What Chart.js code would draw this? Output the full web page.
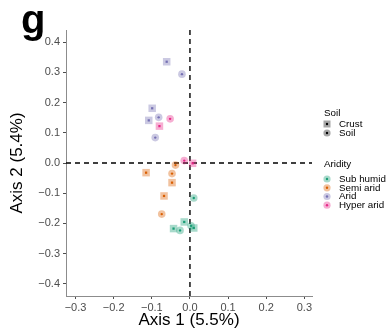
<!DOCTYPE html>
<html>
<head>
<meta charset="utf-8">
<script src="https://cdn.jsdelivr.net/npm/chart.js@4.4.0/dist/chart.umd.min.js"></script>
<style>
  html, body { margin: 0; padding: 0; background: #fff; }
  #wrap { position: relative; width: 389px; height: 333px; }
</style>
</head>
<body>
<div id="wrap"><canvas id="ordenacion" width="389" height="333"></canvas></div>
<script>
// categorias
const aridez = ['Sub humid', 'Semi arid', 'Arid', 'Hyper arid'];
const suelo = ['Crust', 'Soil'];
const colores = ['#1b9e77', '#d95f02', '#7570b3', '#e7298a'];

// puntos [eje1, eje2] por aridez y tipo de suelo
const subHumidCrust = [[-0.015, -0.195], [-0.043, -0.217], [0.010, -0.215]];
const subHumidSoil = [[0.010, -0.116], [-0.026, -0.223], [0.003, -0.208]];
const semiAridCrust = [[-0.115, -0.032], [-0.047, -0.065], [-0.068, -0.109]];
const semiAridSoil = [[-0.038, -0.007], [-0.047, -0.035], [-0.074, -0.169]];
const aridCrust = [[-0.061, 0.335], [-0.099, 0.181], [-0.108, 0.141]];
const aridSoil = [[-0.021, 0.294], [-0.082, 0.151], [-0.091, 0.084]];
const hyperAridCrust = [[-0.080, 0.122], [0.007, -0.001]];
const hyperAridSoil = [[-0.052, 0.146], [-0.015, 0.008]];

const xTicks = [-0.3, -0.2, -0.1, 0.0, 0.1, 0.2, 0.3];
const yTicks = [-0.4, -0.3, -0.2, -0.1, 0.0, 0.1, 0.2, 0.3, 0.4];

const grupos = [
    [subHumidCrust, subHumidSoil],
    [semiAridCrust, semiAridSoil],
    [aridCrust, aridSoil],
    [hyperAridCrust, hyperAridSoil]
];

function hexAlpha(hex, a) {
    const r = parseInt(hex.slice(1, 3), 16);
    const g = parseInt(hex.slice(3, 5), 16);
    const b = parseInt(hex.slice(5, 7), 16);
    return 'rgba(' + r + ',' + g + ',' + b + ',' + a + ')';
}

function formatoTick(v) {
    const s = Math.abs(v).toFixed(1);
    return (v < -1e-9 ? '\u2212' : '') + s;
}

let datasets = [];
grupos.forEach(function (grupo, i) {
    grupo.forEach(function (pares, j) {
        const puntos = pares.map(p => ({ x: p[0], y: p[1] }));
        const estilo = j === 0 ? 'rect' : 'circle';
        // marca grande semitransparente
        datasets.push({
            label: aridez[i] + ' ' + suelo[j],
            data: puntos,
            pointStyle: estilo,
            pointRadius: j === 0 ? 5.3 : 3.8,
            backgroundColor: hexAlpha(colores[i], 0.38),
            borderWidth: 0,
            borderColor: 'transparent'
        });
        // punto central
        datasets.push({
            label: aridez[i] + ' ' + suelo[j] + ' centro',
            data: puntos,
            pointStyle: estilo,
            pointRadius: j === 0 ? 1.6 : 1.2,
            backgroundColor: colores[i],
            borderWidth: 0,
            borderColor: 'transparent'
        });
    });
});

const lineasCero = {
    id: 'lineasCero',
    beforeDatasetsDraw(chart) {
        const { ctx, chartArea, scales } = chart;
        const x0 = scales.x.getPixelForValue(0);
        const y0 = scales.y.getPixelForValue(0);
        ctx.save();
        ctx.strokeStyle = '#000';
        ctx.lineWidth = 1.4;
        ctx.setLineDash([5, 4]);
        ctx.beginPath();
        ctx.moveTo(x0, chartArea.top);
        ctx.lineTo(x0, chartArea.bottom);
        ctx.moveTo(chartArea.left, y0);
        ctx.lineTo(chartArea.right, y0);
        ctx.stroke();
        ctx.restore();
    }
};

const leyendaYLetra = {
    id: 'leyendaYLetra',
    afterDraw(chart) {
        const ctx = chart.ctx;
        ctx.save();
        // letra del panel
        ctx.fillStyle = '#000';
        ctx.font = 'bold 40px "Liberation Sans", Arial, sans-serif';
        ctx.textBaseline = 'alphabetic';
        ctx.textAlign = 'left';
        ctx.fillText('g', 21, 33);

        const xm = 327, xt = 339;
        ctx.font = '9.8px "Liberation Sans", Arial, sans-serif';
        ctx.textBaseline = 'middle';
        ctx.fillStyle = '#000';
        ctx.fillText('Soil', 324, 113);
        const ySuelo = [124, 133];
        suelo.forEach(function (nombre, j) {
            const y = ySuelo[j];
            ctx.fillStyle = 'rgba(0,0,0,0.35)';
            ctx.beginPath();
            if (j === 0) ctx.rect(xm - 3.5, y - 3.5, 7, 7);
            else ctx.arc(xm, y, 3.6, 0, Math.PI * 2);
            ctx.fill();
            ctx.fillStyle = '#000';
            ctx.beginPath();
            ctx.arc(xm, y, 1.2, 0, Math.PI * 2);
            ctx.fill();
            ctx.fillText(nombre, xt, y);
        });

        ctx.fillText('Aridity', 324, 164);
        const yArid = [179, 187.8, 196.5, 205.2];
        aridez.forEach(function (nombre, i) {
            const y = yArid[i];
            ctx.fillStyle = hexAlpha(colores[i], 0.38);
            ctx.beginPath();
            ctx.arc(xm, y, 3.6, 0, Math.PI * 2);
            ctx.fill();
            ctx.fillStyle = colores[i];
            ctx.beginPath();
            ctx.arc(xm, y, 1.2, 0, Math.PI * 2);
            ctx.fill();
            ctx.fillStyle = '#000';
            ctx.fillText(nombre, xt, y);
        });
        ctx.restore();
    }
};

const fuente = '"Liberation Sans", Arial, sans-serif';

new Chart(document.getElementById('ordenacion'), {
    type: 'scatter',
    data: { datasets: datasets },
    plugins: [lineasCero, leyendaYLetra],
    options: {
        responsive: false,
        animation: false,
        layout: { padding: { top: 30, right: 77, left: 0, bottom: 0 } },
        plugins: {
            legend: { display: false },
            tooltip: { enabled: false }
        },
        scales: {
            x: {
                type: 'linear',
                min: -0.325,
                max: 0.32,
                afterBuildTicks: function (escala) {
                    escala.ticks = xTicks.map(v => ({ value: v }));
                },
                afterFit: function (escala) { escala.height = 37; },
                ticks: {
                    callback: formatoTick,
                    color: '#4d4d4d',
                    font: { family: fuente, size: 11 },
                    padding: 2,
                    maxRotation: 0
                },
                grid: { drawOnChartArea: false, drawTicks: true, tickLength: 3, color: '#4d4d4d' },
                border: { display: true, color: '#8c8c8c', width: 1 },
                title: {
                    display: true,
                    text: 'Axis 1 (5.5%)',
                    color: '#000',
                    font: { family: fuente, size: 17 },
                    padding: { top: 0, bottom: 2 }
                }
            },
            y: {
                type: 'linear',
                min: -0.44,
                max: 0.44,
                afterBuildTicks: function (escala) {
                    escala.ticks = yTicks.map(v => ({ value: v }));
                },
                afterFit: function (escala) { escala.width = 66; },
                ticks: {
                    callback: formatoTick,
                    color: '#4d4d4d',
                    font: { family: fuente, size: 11 },
                    padding: 3
                },
                grid: { drawOnChartArea: false, drawTicks: true, tickLength: 3, color: '#4d4d4d' },
                border: { display: true, color: '#8c8c8c', width: 1 },
                title: {
                    display: true,
                    text: 'Axis 2 (5.4%)',
                    color: '#000',
                    font: { family: fuente, size: 17 },
                    padding: { top: 7, bottom: 0 }
                }
            }
        }
    }
});
</script>
</body>
</html>
